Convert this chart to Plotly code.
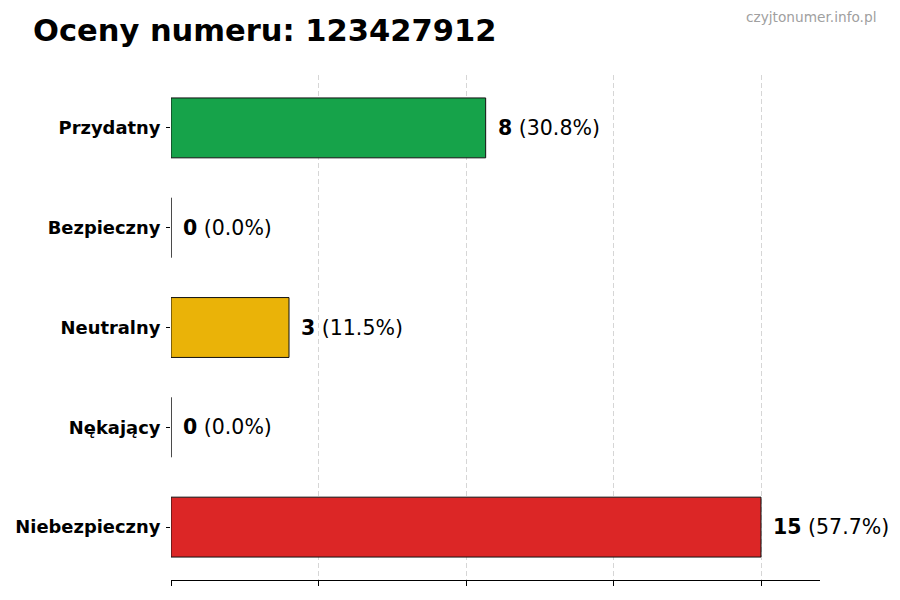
import plotly.graph_objects as go

# data
categories = ["Niebezpieczny", "Nękający", "Neutralny", "Bezpieczny", "Przydatny"]
counts = [15, 0, 3, 0, 8]
colors = ["#dc2626", "#6b7280", "#eab308", "#9ca3af", "#16a34a"]
number = "123427912"

total = sum(counts)
labels = ["<b>{}</b> ({:.1f}%)".format(c, 100.0 * c / total) for c in counts]

fig = go.Figure()
fig.add_trace(go.Bar(
    x=counts,
    y=categories,
    orientation="h",
    width=0.6,
    marker=dict(color=colors, line=dict(color="#111111", width=1)),
    hoverinfo="skip",
))

for c, cat, lab in zip(counts, categories, labels):
    fig.add_annotation(
        x=c, y=cat, text=lab, showarrow=False,
        xanchor="left", yanchor="middle", xshift=10,
        font=dict(family="DejaVu Sans", size=20.5, color="#000000"),
    )

# watermark, placed in paper coords above/right of the plot area
fig.add_annotation(
    x=1.0894, y=1.1149, xref="paper", yref="paper",
    xanchor="right", yanchor="middle", showarrow=False,
    text="czyjtonumer.info.pl",
    font=dict(family="DejaVu Sans", size=13.7, color="#a0a0a0"),
)

max_val = max(counts)
fig.update_layout(
    width=900, height=600,
    # page body adds an 8px offset, margins compensate for it
    margin=dict(l=163, r=88, t=67, b=28, autoexpand=False),
    plot_bgcolor="white", paper_bgcolor="white",
    showlegend=False,
    title=dict(
        text="<b>Oceny numeru: {}</b>".format(number),
        xref="container", yref="container",
        x=25 / 900, xanchor="left",
        y=1 - 22 / 600, yanchor="middle",
        font=dict(family="DejaVu Sans", size=30.5, color="#000000"),
    ),
    xaxis=dict(
        range=[0, max_val * 1.1],
        tickmode="array",
        tickvals=[max_val * k / 4 for k in range(5)],
        showticklabels=False,
        ticks="outside", ticklen=5, tickcolor="#000000",
        showline=True, linecolor="#000000", linewidth=1,
        showgrid=True, gridcolor="rgba(180,180,180,0.55)", griddash="5px,3px", gridwidth=1,
        zeroline=False, layer="above traces",
    ),
    yaxis=dict(
        range=[-0.53, 4.53],
        ticks="outside", ticklen=4, tickcolor="#000000",
        showline=False, showgrid=False, zeroline=False,
        tickfont=dict(family="DejaVu Sans", size=17.9, color="#000000"),
        ticklabelstandoff=2,
    ),
)
fig.update_yaxes(ticktext=["<b>{}</b>".format(c) for c in categories], tickvals=categories)

fig.write_html("out.html")
